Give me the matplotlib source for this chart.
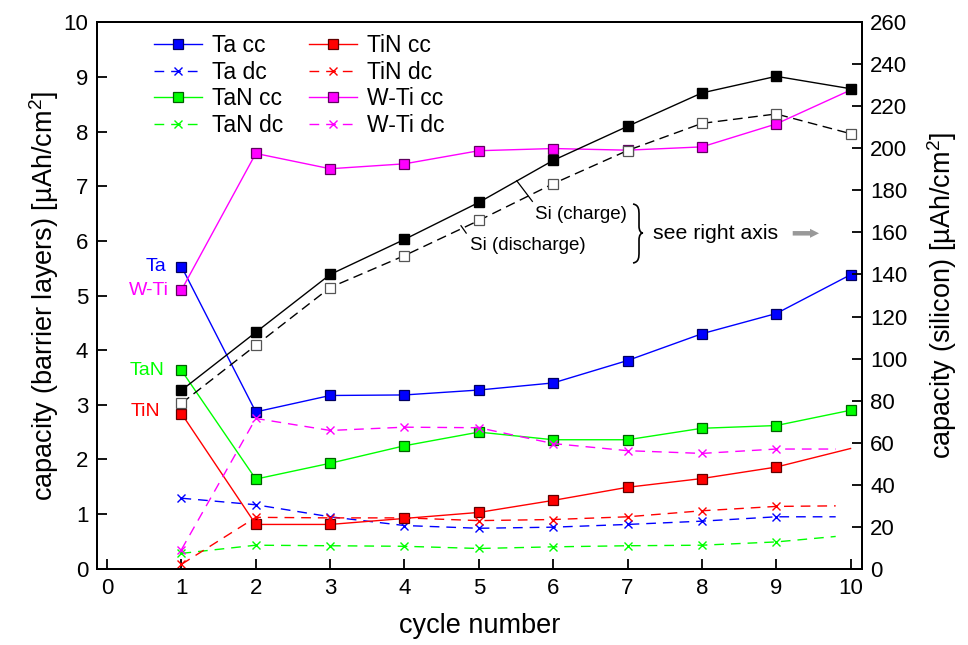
import numpy as np
import matplotlib
matplotlib.use('Agg')
import matplotlib.pyplot as plt
from matplotlib.path import Path
from matplotlib.patches import PathPatch, FancyArrow

plt.rcParams['font.family'] = ['Liberation Sans', 'DejaVu Sans']
plt.rcParams['mathtext.fontset'] = 'custom'
plt.rcParams['mathtext.rm'] = 'Liberation Sans'
plt.rcParams['mathtext.it'] = 'Liberation Sans:italic'

# cycle numbers
cycles = [1, 2, 3, 4, 5, 6, 7, 8, 9, 10]
# dc curves stop a bit before cycle 10 (no marker at the end)
cycles_dc = [1, 2, 3, 4, 5, 6, 7, 8, 9, 9.8]

# barrier layers, left axis [uAh/cm2]
ta_cc = [5.53, 2.87, 3.17, 3.18, 3.27, 3.40, 3.81, 4.30, 4.67, 5.38]
ta_dc = [1.29, 1.17, 0.95, 0.79, 0.74, 0.76, 0.81, 0.87, 0.95, 0.95]
tin_cc = [2.84, 0.81, 0.81, 0.92, 1.03, 1.25, 1.49, 1.65, 1.86, 2.20]
tin_dc = [0.08, 0.94, 0.93, 0.93, 0.88, 0.90, 0.95, 1.06, 1.14, 1.15]
tan_cc = [3.63, 1.64, 1.93, 2.25, 2.50, 2.36, 2.36, 2.57, 2.62, 2.90]
tan_dc = [0.28, 0.43, 0.42, 0.41, 0.37, 0.40, 0.42, 0.43, 0.49, 0.59]
wti_cc = [5.10, 7.60, 7.32, 7.41, 7.65, 7.69, 7.66, 7.72, 8.14, 8.76]
wti_dc = [0.35, 2.75, 2.53, 2.59, 2.58, 2.29, 2.16, 2.11, 2.19, 2.19]

# silicon, right axis [uAh/cm2]
si_charge = [84.9, 112.5, 140.0, 156.7, 174.3, 194.3, 210.5, 226.4, 234.3, 228.4]
si_discharge = [78.7, 106.3, 133.8, 149.0, 165.7, 183.2, 199.0, 211.9, 216.4, 207.0]

blue = '#0000ff'
red = '#ff0000'
green = '#00ff00'
magenta = '#ff00ff'
dash = (7, 5)

fig = plt.figure(figsize=(9.68, 6.45), dpi=100)
ax = fig.add_axes([0.0999, 0.1183, 0.7903, 0.8471])
ax2 = ax.twinx()

sq = dict(marker='s', ms=6.5, mew=0.9)
cr = dict(marker='x', ms=5.5, mew=1.0)
first9 = list(range(9))

ax.plot(cycles, ta_cc, color=blue, lw=1.0, mfc=blue, mec='#000060', label='Ta cc', **sq)
ax.plot(cycles_dc, ta_dc, color=blue, lw=1.0, dashes=dash, markevery=first9,
        label='Ta dc', **cr)
ax.plot(cycles, tan_cc, color=green, lw=1.0, mfc=green, mec='#006000', label='TaN cc', **sq)
ax.plot(cycles_dc, tan_dc, color=green, lw=1.0, dashes=dash, markevery=first9,
        label='TaN dc', **cr)
ax.plot(cycles, tin_cc, color=red, lw=1.0, mfc=red, mec='#600000', markevery=first9,
        label='TiN cc', **sq)
ax.plot(cycles_dc, tin_dc, color=red, lw=1.0, dashes=dash, markevery=first9,
        label='TiN dc', **cr)
ax.plot(cycles, wti_cc, color=magenta, lw=1.0, mfc=magenta, mec='#600060',
        markevery=first9, label='W-Ti cc', **sq)
ax.plot(cycles_dc, wti_dc, color=magenta, lw=1.0, dashes=dash, markevery=first9,
        label='W-Ti dc', **cr)

ax2.plot(cycles, si_charge, color='black', lw=1.0, marker='s', ms=7, mfc='black', mec='black')
ax2.plot(cycles, si_discharge, color='black', lw=1.0, dashes=(7, 4), marker='s', ms=6.5,
         mfc='white', mec='#555555', mew=0.9)

# labels next to the first points
ax.text(0.8, ta_cc[0], 'Ta', color=blue, fontsize=14, ha='right', va='center')
ax.text(0.83, wti_cc[0], 'W-Ti', color=magenta, fontsize=14, ha='right', va='center')
ax.text(0.77, tan_cc[0], 'TaN', color=green, fontsize=14, ha='right', va='center')
ax.text(0.72, tin_cc[0] + 0.03, 'TiN', color=red, fontsize=14, ha='right', va='center')

# Si annotations
ax2.plot([5.51, 5.72], [184.6, 174.8], color='black', lw=0.9)
ax2.text(5.75, 168.4, 'Si (charge)', fontsize=13.5, ha='left', va='center')
ax2.plot([4.76, 4.83], [163.2, 159.7], color='black', lw=0.9)
ax2.text(4.88, 153.7, 'Si (discharge)', fontsize=13.5, ha='left', va='center')


def px(x, y):
    # reference pixel -> axes fraction
    return ((x - 96.7) / 765.0, (568.7 - y) / 546.4)


brace_pts = [px(633, 204),
             px(639, 205), px(639, 210), px(639, 215),
             px(639, 226),
             px(639, 231), px(641, 233), px(643, 233),
             px(641, 233), px(639, 235), px(639, 240),
             px(639, 252),
             px(639, 257), px(639, 262), px(633, 263)]
brace_codes = [Path.MOVETO,
               Path.CURVE4, Path.CURVE4, Path.CURVE4,
               Path.LINETO,
               Path.CURVE4, Path.CURVE4, Path.CURVE4,
               Path.CURVE4, Path.CURVE4, Path.CURVE4,
               Path.LINETO,
               Path.CURVE4, Path.CURVE4, Path.CURVE4]
ax.add_patch(PathPatch(Path(brace_pts, brace_codes), transform=ax.transAxes,
                       fill=False, lw=1.2, color='black'))
ax.text(0.727, 0.613, 'see right axis', transform=ax.transAxes, fontsize=15.3,
        ha='left', va='center')
a0 = px(792.7, 233.3)
a1 = px(819, 233.3)
ax.add_patch(FancyArrow(a0[0], a0[1], a1[0] - a0[0], 0, width=4.5 / 546.4,
                        head_width=9 / 546.4, head_length=9 / 765.0,
                        length_includes_head=True, transform=ax.transAxes,
                        color='#999999', lw=0))

ax.set_xlim(-0.14, 10.15)
ax.set_ylim(0, 10)
ax2.set_ylim(0, 260)
ax.set_xticks(range(0, 11))
ax.set_yticks(range(0, 11))
ax2.set_yticks(range(0, 261, 20))

ax.tick_params(axis='both', direction='in', length=7, width=1.3, labelsize=16, pad=6)
ax.tick_params(axis='x', pad=7)
ax2.tick_params(axis='y', direction='in', length=7, width=1.3, labelsize=16, pad=6)
for a in (ax, ax2):
    for s in a.spines.values():
        s.set_linewidth(1.4)

ax.set_xlabel('cycle number', fontsize=19.5, labelpad=10)
ax.set_ylabel(r'capacity (barrier layers) [µAh/cm$^2$]', fontsize=19.5, labelpad=2)
ax2.set_ylabel(r'capacity (silicon) [µAh/cm$^2$]', fontsize=19.5, labelpad=13)

ax.legend(ncol=2, loc='upper left', bbox_to_anchor=(0.057, 1.003), frameon=False,
          fontsize=16.5, handlelength=2.1, handletextpad=0.45, columnspacing=1.1,
          labelspacing=0.15, borderaxespad=0.2)

fig.savefig('out.png', dpi=100)
